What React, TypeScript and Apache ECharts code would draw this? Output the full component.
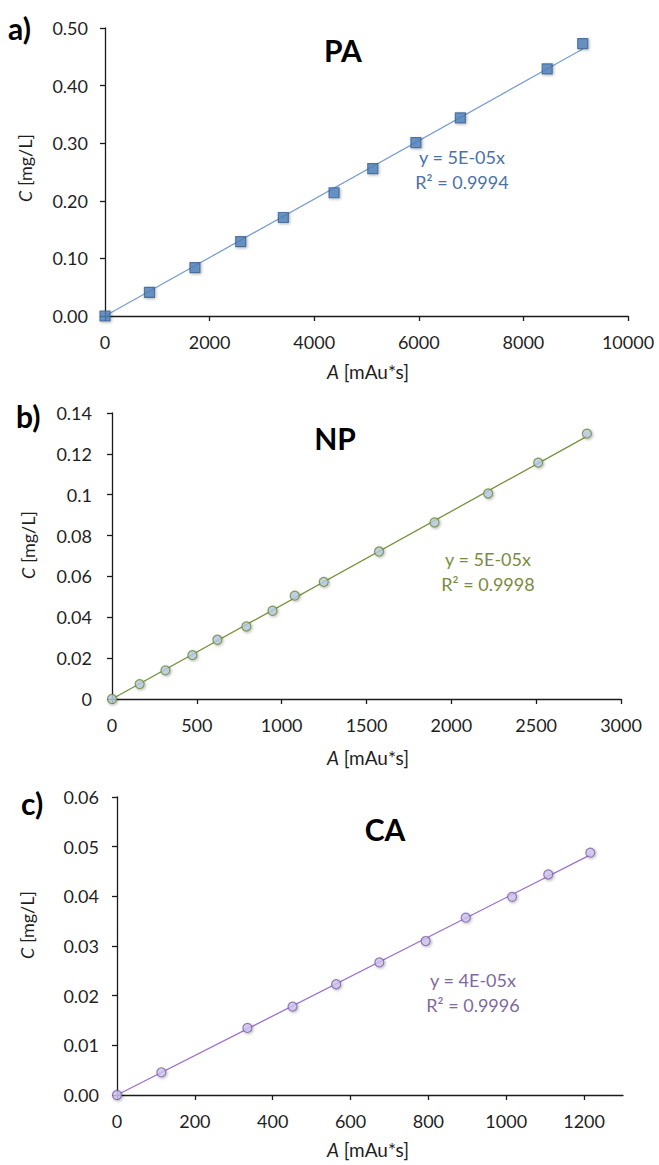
import React, { useEffect, useRef } from "react";
import * as echarts from "echarts";

// ---- Data ----
const paArea = [0, 850, 1720, 2595, 3410, 4380, 5120, 5945, 6795, 8455, 9135];
const paConc = [0, 0.041, 0.084, 0.129, 0.171, 0.214, 0.256, 0.301, 0.344, 0.429, 0.473];
const npArea = [0, 163, 315, 474, 621, 792, 946, 1077, 1248, 1574, 1901, 2217, 2512, 2799];
const npConc = [0, 0.0073, 0.014, 0.0215, 0.029, 0.0355, 0.0432, 0.0506, 0.0573, 0.0722, 0.0864, 0.1006, 0.1157, 0.1299];
const caArea = [0, 114, 335, 451, 563, 674, 793, 896, 1015, 1108, 1216];
const caConc = [0, 0.00457, 0.0135, 0.0178, 0.0223, 0.0267, 0.031, 0.0357, 0.0399, 0.0444, 0.0488];

const panelLetters = ["a)", "b)", "c)"];
const panelTitles = ["PA", "NP", "CA"];
const equations = ["y = 5E-05x", "y = 5E-05x", "y = 4E-05x"];
const rSquared = ["R² = 0.9994", "R² = 0.9998", "R² = 0.9996"];
const caTicks = [0, 200, 400, 600, 800, 1000, 1200];

const FONT = "Lato, 'Open Sans', sans-serif";

function pairs(xs: number[], ys: number[]) {
  return xs.map((x, i) => [x, ys[i]]);
}
function originFit(xs: number[], ys: number[]) {
  let sxy = 0, sxx = 0;
  xs.forEach((x, i) => { sxy += x * ys[i]; sxx += x * x; });
  const k = sxy / sxx;
  const xmax = Math.max(...xs);
  return [[0, 0], [xmax, k * xmax]];
}

export default function App() {
  const ref = useRef<HTMLDivElement>(null);
  useEffect(() => {
    if (!ref.current) return;
    const chart = echarts.init(ref.current, null, { renderer: "svg" });

    const grids = [
      { left: 105, top: 28, width: 523, height: 288 },
      { left: 112, top: 413, width: 509, height: 286 },
      { left: 117, top: 797, width: 506, height: 298 },
    ];

    const axisCommon = {
      axisLine: { show: true, onZero: false, lineStyle: { color: "#1a1a1a", width: 1.3 } },
      axisTick: { show: true, inside: false, length: 5, lineStyle: { color: "#1a1a1a", width: 1.3 } },
      splitLine: { show: false },
    };
    const xLabel = { color: "#1f1f1f", fontFamily: FONT, fontSize: 18, margin: 17, formatter: (v: number) => String(v) };
    const yLabel = { color: "#1f1f1f", fontFamily: FONT, fontSize: 18 };

    const xAxis: any[] = [
      { gridIndex: 0, type: "value", min: 0, max: 10000, interval: 2000, ...axisCommon, axisLabel: { ...xLabel } },
      { gridIndex: 1, type: "value", min: 0, max: 3000, interval: 500, ...axisCommon, axisLabel: { ...xLabel } },
      {
        gridIndex: 2, type: "value", min: 0, max: 1300, interval: 100, ...axisCommon,
        axisTick: { ...axisCommon.axisTick, customValues: caTicks },
        axisLabel: { ...xLabel, customValues: caTicks },
      },
    ];
    const yAxis: any[] = [
      { gridIndex: 0, type: "value", min: 0, max: 0.5, interval: 0.1, ...axisCommon, axisLabel: { ...yLabel, margin: 17, formatter: (v: number) => v.toFixed(2) } },
      { gridIndex: 1, type: "value", min: 0, max: 0.14, interval: 0.02, ...axisCommon, axisLabel: { ...yLabel, margin: 20, formatter: (v: number) => String(parseFloat(v.toFixed(2))) } },
      { gridIndex: 2, type: "value", min: 0, max: 0.06, interval: 0.01, ...axisCommon, axisLabel: { ...yLabel, margin: 18, formatter: (v: number) => v.toFixed(2) } },
    ];

    const styles = [
      { fill: "#4F81BD", border: "#3A6190", line: "#7BA0CD", text: "#4A72A8", symbol: "rect", size: 10 },
      { fill: "#B9CDE5", border: "#6F8A38", line: "#77933C", text: "#7B8B3E", symbol: "circle", size: 9 },
      { fill: "#CFC6F2", border: "#8064A2", line: "#9C6FD0", text: "#7F6A9E", symbol: "circle", size: 9 },
    ];
    const datasets = [pairs(paArea, paConc), pairs(npArea, npConc), pairs(caArea, caConc)];
    const fits = [originFit(paArea, paConc), originFit(npArea, npConc), originFit(caArea, caConc)];

    const series: any[] = [];
    datasets.forEach((d, i) => {
      const s = styles[i];
      series.push({
        type: "line", xAxisIndex: i, yAxisIndex: i, data: fits[i], showSymbol: false, symbol: "none",
        lineStyle: { color: s.line, width: 1.3 }, z: 2, silent: true,
      });
      series.push({
        type: "scatter", xAxisIndex: i, yAxisIndex: i, data: d, symbol: s.symbol, symbolSize: s.size,
        itemStyle: {
          color: s.fill, borderColor: s.border, borderWidth: 1.2,
          shadowBlur: 3, shadowColor: "rgba(0,0,0,0.35)", shadowOffsetX: 1, shadowOffsetY: 1,
        },
        z: 3,
      });
    });

    const letterPos = [[8, 28], [16, 416], [21, 803]];
    const titlePos = [[343, 50], [335, 438], [385, 829]];
    const eqPos = [[462, 157], [488, 559], [473, 980]];
    const xTitlePos = [[368, 371], [368, 757], [368, 1149]];
    const yTitlePos = [[25, 168], [28, 545], [27, 925]];

    const graphic: any[] = [];
    for (let i = 0; i < 3; i++) {
      graphic.push({
        type: "text", x: letterPos[i][0], y: letterPos[i][1],
        style: { text: panelLetters[i], font: `bold 30px ${FONT}`, fill: "#000", textAlign: "left", textVerticalAlign: "middle" },
      });
      graphic.push({
        type: "text", x: titlePos[i][0], y: titlePos[i][1],
        style: { text: panelTitles[i], font: `bold 30px ${FONT}`, fill: "#000", textAlign: "center", textVerticalAlign: "middle" },
      });
      graphic.push({
        type: "text", x: eqPos[i][0], y: eqPos[i][1],
        style: { text: equations[i], font: `18px ${FONT}`, fill: styles[i].text, textAlign: "center", textVerticalAlign: "middle" },
      });
      graphic.push({
        type: "text", x: eqPos[i][0], y: eqPos[i][1] + 25,
        style: { text: rSquared[i], font: `18px ${FONT}`, fill: styles[i].text, textAlign: "center", textVerticalAlign: "middle" },
      });
      graphic.push({
        type: "text", x: xTitlePos[i][0], y: xTitlePos[i][1],
        style: {
          text: "{i|A} [mAu*s]", fill: "#1f1f1f", textAlign: "center", textVerticalAlign: "middle",
          fontFamily: FONT, fontSize: 19,
          rich: { i: { fontStyle: "italic", fontFamily: FONT, fontSize: 19, fill: "#1f1f1f" } },
        },
      });
      graphic.push({
        type: "text", x: yTitlePos[i][0], y: yTitlePos[i][1], rotation: Math.PI / 2,
        style: {
          text: "{i|C} [mg/L]", fill: "#1f1f1f", textAlign: "center", textVerticalAlign: "middle",
          fontFamily: FONT, fontSize: 18,
          rich: { i: { fontStyle: "italic", fontFamily: FONT, fontSize: 18, fill: "#1f1f1f" } },
        },
      });
    }

    chart.setOption({
      animation: false,
      backgroundColor: "#ffffff",
      grid: grids,
      xAxis,
      yAxis,
      series,
      graphic,
    });
    return () => chart.dispose();
  }, []);

  return (
    <div
      ref={ref}
      style={{ position: "absolute", left: 0, top: 0, width: 659, height: 1165, background: "#fff" }}
    />
  );
}
